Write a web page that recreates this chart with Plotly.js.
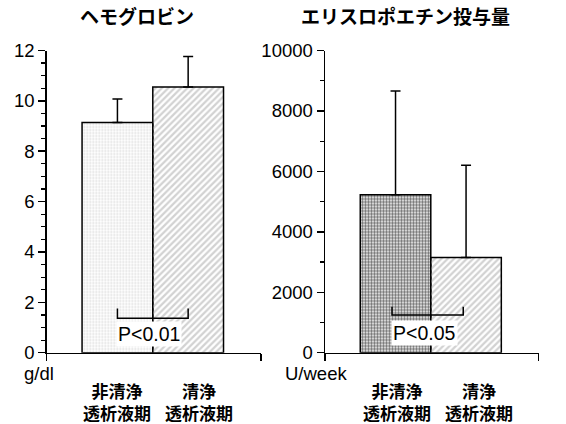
<!DOCTYPE html>
<html><head><meta charset="utf-8">
<script src="https://cdn.plot.ly/plotly-3.0.1.min.js"></script>
<style>body{margin:0;background:#fff}</style></head>
<body><div id="chart" style="width:566px;height:424px"></div>
<script>
// ---- data ----
const categories = ['非清浄<br>透析液期', '清浄<br>透析液期'];
const hgbMean = [9.14, 10.55];
const hgbSD = [0.93, 1.21];
const epoMean = [5230, 3150];
const epoSD = [3430, 3050];
const panelTitles = ['ヘモグロビン', 'エリスロポエチン投与量'];
const unitLabels = ['g/dl', 'U/week'];
const pLabels = ['P<0.01', 'P<0.05'];
const hgbTicks = [0, 2, 4, 6, 8, 10, 12];
const epoTicks = [0, 2000, 4000, 6000, 8000, 10000];

const xpos = [0, 1];
const XR = [-1, 2.03];
const num = "'Liberation Sans', Arial, sans-serif";
const cjk = "'Noto Sans CJK JP', sans-serif";

function barTrace(y, sd, xa, ya, bg, fg, shape, size, sol) {
  return {
    type: 'bar', x: xpos, y: y, xaxis: xa, yaxis: ya, width: 1,
    marker: {
      color: bg,
      line: {color: '#000', width: 1.5},
      pattern: {shape: shape, bgcolor: bg, fgcolor: fg, size: size, solidity: sol, fillmode: 'replace'}
    },
    error_y: {type: 'data', symmetric: false, array: sd, arrayminus: [0, 0], color: '#000', thickness: 1.5, width: 5},
    hoverinfo: 'none', showlegend: false
  };
}

const traces = [
  barTrace(hgbMean, hgbSD, 'x', 'y', ['#dcdcdc', '#d2d2d2'], ['#888888', '#1a1a1a'], ['.', '/'], [3, 4.5], [0.35, 0.5]),
  barTrace(epoMean, epoSD, 'x2', 'y2', ['#666666', '#d2d2d2'], ['#1a1a1a', '#1a1a1a'], ['.', '/'], [3, 4.5], [0.55, 0.5])
];

const yDom = [(424 - 352.7) / 424, (424 - 50.5) / 424];
const xAxisBase = {
  range: XR, showgrid: false, zeroline: false, showline: true, linecolor: '#000', linewidth: 1.5,
  tickmode: 'array', tickvals: XR, ticktext: ['', ''], ticks: 'outside', ticklen: 7, tickwidth: 1.5, tickcolor: '#000',
  fixedrange: true
};
const yAxisBase = {
  showgrid: false, zeroline: false, showline: true, linecolor: '#000', linewidth: 1.5,
  ticks: 'outside', ticklen: 7, tickwidth: 1.5, tickcolor: '#000', tickformat: 'd',
  tickfont: {family: num, size: 18.5, color: '#000'}, domain: yDom, fixedrange: true,
  minor: {ticks: 'outside', ticklen: 4, tickwidth: 1.2, tickcolor: '#000', showgrid: false}
};

const layout = {
  width: 566, height: 424,
  margin: {l: 0, r: 0, t: 0, b: 0},
  paper_bgcolor: '#fff', plot_bgcolor: 'rgba(0,0,0,0)',
  bargap: 0,
  xaxis: Object.assign({}, xAxisBase, {domain: [46.7 / 566, 261 / 566], anchor: 'y'}),
  xaxis2: Object.assign({}, xAxisBase, {domain: [325 / 566, 538.7 / 566], anchor: 'y2'}),
  yaxis: Object.assign({}, yAxisBase, {range: [0, 12], tickvals: hgbTicks, anchor: 'x',
    minor: Object.assign({}, yAxisBase.minor, {dtick: 0.5, tick0: 0})}),
  yaxis2: Object.assign({}, yAxisBase, {range: [0, 10000], tickvals: epoTicks, anchor: 'x2',
    minor: Object.assign({}, yAxisBase.minor, {dtick: 1000, tick0: 0})}),
  shapes: [
    {type: 'path', xref: 'x', yref: 'y', path: 'M 0,1.76 L 0,1.37 L 1,1.37 L 1,1.76', line: {color: '#000', width: 1.5}, layer: 'above'},
    {type: 'path', xref: 'x2', yref: 'y2', path: 'M -0.05,1520 L -0.05,1245 L 0.96,1245 L 0.96,1520', line: {color: '#000', width: 1.5}, layer: 'above'}
  ],
  annotations: []
};

const anns = layout.annotations;
function pa(text, x, y, font, extra) {
  anns.push(Object.assign({text: text, xref: 'paper', yref: 'paper', x: x / 566, y: 1 - y / 424,
    xanchor: 'center', yanchor: 'middle', showarrow: false, font: font}, extra || {}));
}
const titleFont = {family: cjk, size: 19, color: '#000', weight: 'bold'};
pa(panelTitles[0], 137, 16, titleFont);
pa(panelTitles[1], 405, 16, titleFont);
const unitFont = {family: num, size: 18.5, color: '#000'};
pa(unitLabels[0], 22, 373, unitFont, {xanchor: 'left'});
pa(unitLabels[1], 283, 373, unitFont, {xanchor: 'left'});
// category labels (positions in data units of each panel)
const catPos = [[0, 1.15], [0.02, 1.18]];
const catFont = {family: cjk, size: 17, color: '#000', weight: 'bold'};
[['x', 0], ['x2', 1]].forEach(([xa, p]) => {
  categories.forEach((c, i) => {
    anns.push({text: c, xref: xa, yref: 'paper', x: catPos[p][i], y: 1 - 401 / 424,
      xanchor: 'center', yanchor: 'middle', showarrow: false, font: catFont, borderpad: 0});
  });
});
// p-values
anns.push({text: pLabels[0], xref: 'x', yref: 'y', x: 0.44, y: 0.74, xanchor: 'center', yanchor: 'middle',
  showarrow: false, bgcolor: '#fff', borderpad: 1, font: {family: num, size: 19.5, color: '#000'}});
anns.push({text: pLabels[1], xref: 'x2', yref: 'y2', x: 0.415, y: 660, xanchor: 'center', yanchor: 'middle',
  showarrow: false, bgcolor: '#fff', borderpad: 1, font: {family: num, size: 19.5, color: '#000'}});

Plotly.newPlot('chart', traces, layout, {staticPlot: true, displayModeBar: false});
</script></body></html>
